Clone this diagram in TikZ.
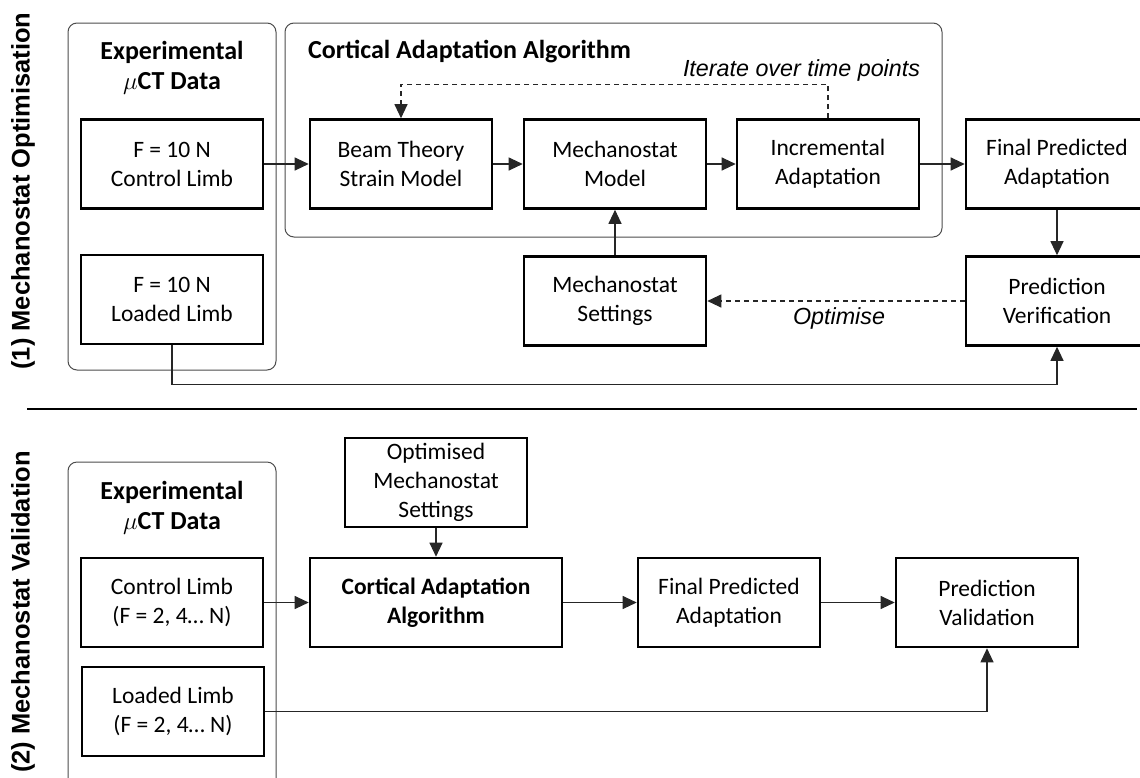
\documentclass[tikz,border=0pt]{standalone}
\usepackage{fontspec}
\setmainfont{Carlito}
\newfontfamily\arialf{Liberation Sans}
\usetikzlibrary{arrows.meta}
\begin{document}
\begin{tikzpicture}[x=1pt,y=-1pt,
  box/.style={draw=black, line width=2.6pt, minimum width=182pt, minimum height=89pt, inner sep=0pt, align=center, font=\fontsize{23.5}{29}\selectfont},
  grp/.style={draw=black!70, line width=1pt, rounded corners=9pt},
  conn/.style={draw=black!85, line width=1.1pt, -{Triangle[length=14pt,width=13pt]}},
  dsh/.style={conn, dash pattern=on 5pt off 4pt},
  head/.style={font=\fontsize{26}{30}\selectfont\bfseries, align=center, inner sep=0pt},
  ital/.style={font=\arialf\itshape\fontsize{23.3}{26}\selectfont, inner sep=0pt},
  side/.style={font=\arialf\bfseries\fontsize{25.5}{28}\selectfont, rotate=90, inner sep=0pt}
]
\useasboundingbox (0,0) rectangle (1140,777);
% groups
\draw[grp] (68,23) rectangle (276,370);
\draw[grp] (285,23) rectangle (942,237);
\draw[grp] (68,462) rectangle (276,790);
\draw[black, line width=2pt] (27,409) -- (1137,409);
% side labels
\node[side] (s1) at (23,191) {(1) Mechanostat Optimisation};
\node[side] (s2) at (23,612) {(2) Mechanostat Validation};
% headings
\node[head] (h1) at (172,68) {Experimental\\$\mu$CT Data};
\node[head, anchor=west] (h2) at (308,52) {Cortical Adaptation Algorithm};
\node[head] (h3) at (172,508) {Experimental\\$\mu$CT Data};
% top boxes
\node[box] (ctl1) at (172,164) {F = 10 N\\Control Limb};
\node[box] (ld1) at (172,299.5) {F = 10 N\\Loaded Limb};
\node[box] (beam) at (401,164) {Beam Theory\\Strain Model};
\node[box] (mm) at (615,164) {Mechanostat\\Model};
\node[box] (incr) at (828,164) {Incremental\\Adaptation};
\node[box] (fpa) at (1057,164) {Final Predicted\\Adaptation};
\node[box] (pv) at (1057,301) {Prediction\\Verification};
\node[box] (ms) at (615,301) {Mechanostat\\Settings};
\node[ital] (it) at (801.5,70) {Iterate over time points};
\node[ital] (op) at (839,318) {Optimise};
% bottom boxes
\node[box] (ctl2) at (172,602.5) {Control Limb\\(F = 2, 4\ldots\ N)};
\node[box] (ld2) at (173,711.5) {Loaded Limb\\(F = 2, 4\ldots\ N)};
\node[box] (opt) at (436,482.5) {Optimised\\Mechanostat\\Settings};
\node[box, minimum width=252pt, font=\fontsize{23.5}{29}\selectfont\bfseries] (caa2) at (436,602.5) {Cortical Adaptation\\Algorithm};
\node[box] (fpa2) at (729,602.5) {Final Predicted\\Adaptation};
\node[box] (pv2) at (987,602.5) {Prediction\\Validation};
% connectors top
\draw[conn] (ctl1.east) -- (beam.west);
\draw[conn] (beam.east) -- (mm.west);
\draw[conn] (mm.east) -- (incr.west);
\draw[conn] (incr.east) -- (fpa.west);
\draw[conn] (fpa.south) -- (pv.north);
\draw[conn] (ms.north) -- (mm.south);
\draw[dsh] (incr.north) -- ++(0,-34) -| (beam.north);
\draw[dsh] (pv.west) -- (ms.east);
\draw[conn] (ld1.south) -- ++(0,39) -| (pv.south);
% connectors bottom
\draw[conn] (ctl2.east) -- (caa2.west);
\draw[conn] (opt.south) -- (caa2.north);
\draw[conn] (caa2.east) -- (fpa2.west);
\draw[conn] (fpa2.east) -- (pv2.west);
\draw[conn] (ld2.east) -| (pv2.south);
\end{tikzpicture}
\end{document}
